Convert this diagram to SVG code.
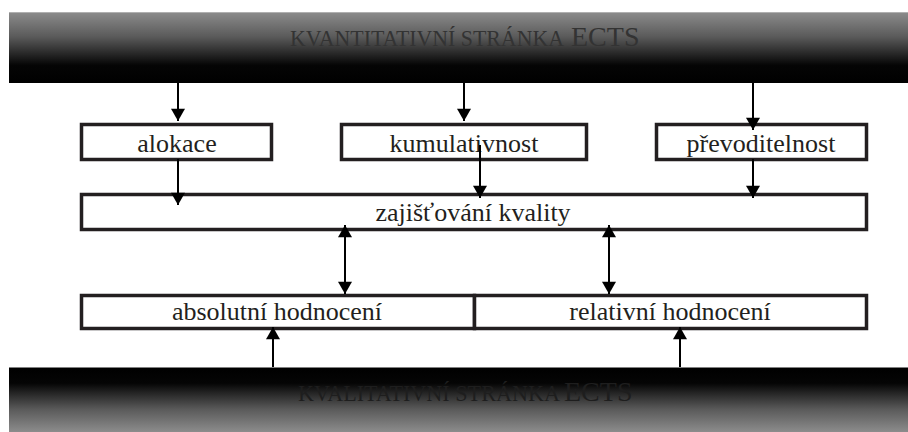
<svg xmlns="http://www.w3.org/2000/svg" width="908" height="432" viewBox="0 0 908 432">
<defs>
<linearGradient id="gTop" x1="0" y1="0" x2="0" y2="1">
<stop offset="0" stop-color="#8c8c8c"/>
<stop offset="0.35" stop-color="#5a5a5a"/>
<stop offset="0.75" stop-color="#050505"/>
<stop offset="1" stop-color="#000"/>
</linearGradient>
<linearGradient id="gBot" x1="0" y1="0" x2="0" y2="1">
<stop offset="0" stop-color="#000"/>
<stop offset="0.25" stop-color="#050505"/>
<stop offset="0.65" stop-color="#5a5a5a"/>
<stop offset="1" stop-color="#8c8c8c"/>
</linearGradient>
<marker id="ah" viewBox="0 0 14 16" refX="14" refY="8" markerWidth="16" markerHeight="14" markerUnits="userSpaceOnUse" orient="auto">
<path d="M0,0 L14,8 L0,16 Z" fill="#000"/>
</marker>
<marker id="ahs" viewBox="0 0 14 16" refX="0" refY="8" markerWidth="16" markerHeight="14" markerUnits="userSpaceOnUse" orient="auto">
<path d="M14,0 L0,8 L14,16 Z" fill="#000"/>
</marker>
</defs>
<style>
.box{fill:#fff;stroke:#231f20;stroke-width:3.5}
.lbl{font-size:26px;fill:#231f20;text-anchor:middle}
.con{stroke:#000;stroke-width:2;fill:none}
</style>
<g id="banner-top">
<rect x="9" y="12" width="899" height="71" fill="url(#gTop)"/>
<line x1="9" y1="12.5" x2="908" y2="12.5" stroke="#b0b0b0" stroke-width="1"/>
<text font-family="Liberation Serif, serif" x="290" y="46" fill="#333"><tspan font-size="23" textLength="274" lengthAdjust="spacingAndGlyphs">KVANTITATIVNÍ STRÁNKA</tspan><tspan x="571" font-size="28">ECTS</tspan></text>
</g>
<g id="banner-bottom">
<rect x="9" y="367" width="899" height="65" fill="url(#gBot)"/>
<line x1="9" y1="367.5" x2="908" y2="367.5" stroke="#808080" stroke-width="1"/>
<text font-family="Liberation Serif, serif" x="298" y="401" fill="#1e1e1e"><tspan font-size="23" textLength="262" lengthAdjust="spacingAndGlyphs">KVALITATIVNÍ STRÁNKA</tspan><tspan x="564" font-size="28">ECTS</tspan></text>
</g>
<g id="n-alokace">
<rect class="box" x="81.5" y="124.5" width="190" height="35"/>
<text class="lbl" font-family="Liberation Serif, serif" x="177" y="152">alokace</text>
</g>
<g id="n-kumulativnost">
<rect class="box" x="341.5" y="124.5" width="245" height="35"/>
<text class="lbl" font-family="Liberation Serif, serif" x="464" y="152">kumulativnost</text>
</g>
<g id="n-prevoditelnost">
<rect class="box" x="656.5" y="124.5" width="210" height="35"/>
<text class="lbl" font-family="Liberation Serif, serif" x="761" y="152">převoditelnost</text>
</g>
<g id="n-zajistovani">
<rect class="box" x="81.5" y="194.5" width="785" height="35"/>
<text class="lbl" font-family="Liberation Serif, serif" x="473" y="221">zajišťování kvality</text>
</g>
<g id="n-absolutni">
<rect class="box" x="81.5" y="295.5" width="393" height="33"/>
<text class="lbl" font-family="Liberation Serif, serif" x="277" y="320">absolutní hodnocení</text>
</g>
<g id="n-relativni">
<rect class="box" x="474.5" y="295.5" width="392" height="33"/>
<text class="lbl" font-family="Liberation Serif, serif" x="670" y="320">relativní hodnocení</text>
</g>
<g id="connectors">
<line class="con" x1="178" y1="83" x2="178" y2="121" marker-end="url(#ah)"/>
<line class="con" x1="464" y1="83" x2="464" y2="121" marker-end="url(#ah)"/>
<line class="con" x1="753" y1="83" x2="753" y2="130" marker-end="url(#ah)"/>
<line class="con" x1="178" y1="159" x2="178" y2="205" marker-end="url(#ah)"/>
<line class="con" x1="480" y1="145" x2="480" y2="198" marker-end="url(#ah)"/>
<line class="con" x1="753" y1="159" x2="753" y2="198" marker-end="url(#ah)"/>
<line class="con" x1="345" y1="225" x2="345" y2="294" marker-start="url(#ahs)" marker-end="url(#ah)"/>
<line class="con" x1="609" y1="225" x2="609" y2="294" marker-start="url(#ahs)" marker-end="url(#ah)"/>
<line class="con" x1="273" y1="367" x2="273" y2="327" marker-end="url(#ah)"/>
<line class="con" x1="680" y1="367" x2="680" y2="327" marker-end="url(#ah)"/>
</g>
</svg>
